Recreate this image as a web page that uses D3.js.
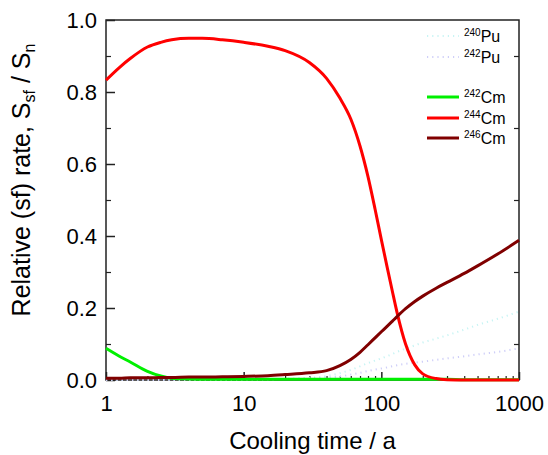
<!DOCTYPE html>
<html>
<head>
<meta charset="utf-8">
<script src="https://cdn.jsdelivr.net/npm/d3@7"></script>
<style>
  html, body { margin: 0; padding: 0; background: #fff; }
  svg { display: block; font-family: Arial, "Liberation Sans", sans-serif; }
</style>
</head>
<body>
<svg id="chart" width="548" height="455"></svg>
<script>
// Cooling time in years (shared sampling grid for every series)
const coolingTime = [1, 1.25, 1.5, 2, 2.5, 3, 4, 5, 7, 10, 15, 20, 30, 40, 50, 60, 70, 80, 90, 100, 110, 120, 130, 150, 175, 200, 250, 300, 400, 500, 700, 1000];

// Relative spontaneous-fission neutron source contributions
const pu240 = [0, 0, 0, 0, 0, 0, 0, 0, 0, 0.001, 0.002, 0.003, 0.006, 0.011, 0.019, 0.028, 0.038, 0.047, 0.054, 0.060, 0.066, 0.072, 0.078, 0.087, 0.096, 0.104, 0.115, 0.124, 0.140, 0.153, 0.170, 0.190];
const pu242 = [0, 0, 0, 0, 0, 0, 0, 0, 0, 0.001, 0.002, 0.003, 0.005, 0.007, 0.010, 0.015, 0.020, 0.025, 0.029, 0.032, 0.035, 0.038, 0.041, 0.045, 0.048, 0.051, 0.056, 0.060, 0.066, 0.071, 0.078, 0.088];
const cm242 = [0.088, 0.066, 0.050, 0.024, 0.011, 0.005, 0.003, 0.002, 0.002, 0.002, 0.002, 0.002, 0.002, 0.002, 0.002, 0.002, 0.002, 0.002, 0.002, 0.002, 0.002, 0.002, 0.002, 0.002, 0.002, 0.002, 0.002, 0.002, 0.001, 0.001, 0.001, 0.001];
const cm244 = [0.833, 0.868, 0.893, 0.925, 0.938, 0.945, 0.949, 0.949, 0.945, 0.938, 0.927, 0.915, 0.882, 0.838, 0.783, 0.725, 0.650, 0.565, 0.475, 0.390, 0.315, 0.248, 0.188, 0.100, 0.042, 0.017, 0.004, 0.001, 0, 0, 0, 0];
const cm246 = [0.005, 0.005, 0.006, 0.006, 0.007, 0.007, 0.008, 0.008, 0.009, 0.010, 0.012, 0.015, 0.020, 0.026, 0.040, 0.057, 0.077, 0.098, 0.117, 0.134, 0.149, 0.163, 0.176, 0.198, 0.218, 0.233, 0.255, 0.271, 0.296, 0.317, 0.350, 0.388];

// Axis ticks
const xMajorTicks = [1, 10, 100, 1000];
const xTickLabels = ["1", "10", "100", "1000"];
const yMajorTicks = [0, 0.2, 0.4, 0.6, 0.8, 1.0];
const yTickLabels = ["0.0", "0.2", "0.4", "0.6", "0.8", "1.0"];

const series = [
  { iso: "240", el: "Pu", values: pu240, color: "#c8f4f4", dotted: true },
  { iso: "242", el: "Pu", values: pu242, color: "#cfcff8", dotted: true },
  { iso: "242", el: "Cm", values: cm242, color: "#00f000", dotted: false },
  { iso: "244", el: "Cm", values: cm244, color: "#ff0000", dotted: false },
  { iso: "246", el: "Cm", values: cm246, color: "#800000", dotted: false }
];

const svg = d3.select("#chart");
const plot = { left: 106, right: 519, top: 20, bottom: 380 };

const x = d3.scaleLog().domain([1, 1000]).range([plot.left, plot.right]);
const y = d3.scaleLinear().domain([0, 1]).range([plot.bottom, plot.top]);

const axisColor = "#222";
const fontFamily = "Arial, 'Liberation Sans', sans-serif";

// Minor tick positions
const xMinor = [];
[1, 10, 100].forEach(d => { for (let k = 2; k <= 9; k++) xMinor.push(d * k); });
const yOdd = d3.range(1, 10, 2).map(k => k / 10);

// Frame
svg.append("rect")
  .attr("x", plot.left).attr("y", plot.top)
  .attr("width", plot.right - plot.left).attr("height", plot.bottom - plot.top)
  .attr("fill", "none").attr("stroke", axisColor).attr("stroke-width", 1.5);

// Bottom axis (ticks inward)
const xAxis = d3.axisBottom(x).tickValues(xMajorTicks).tickSizeInner(-8).tickSizeOuter(0)
  .tickFormat((d, i) => xTickLabels[i]);
const gx = svg.append("g").attr("transform", `translate(0,${plot.bottom})`).call(xAxis);
gx.select(".domain").remove();
gx.selectAll(".tick line").attr("stroke", axisColor).attr("stroke-width", 1.5);
gx.selectAll(".tick text").attr("y", 15).attr("dy", "0.71em")
  .attr("font-size", 22).attr("fill", "#000").attr("font-family", fontFamily);

const xAxisMinor = d3.axisBottom(x).tickValues(xMinor).tickSizeInner(-4).tickSizeOuter(0).tickFormat("");
const gxm = svg.append("g").attr("transform", `translate(0,${plot.bottom})`).call(xAxisMinor);
gxm.select(".domain").remove();
gxm.selectAll(".tick line").attr("stroke", axisColor).attr("stroke-width", 1.2);

// Left axis (ticks inward)
const yAxis = d3.axisLeft(y).tickValues(yMajorTicks).tickSizeInner(-9).tickSizeOuter(0)
  .tickFormat((d, i) => yTickLabels[i]);
const gy = svg.append("g").attr("transform", `translate(${plot.left},0)`).call(yAxis);
gy.select(".domain").remove();
gy.selectAll(".tick line").attr("stroke", axisColor).attr("stroke-width", 1.5);
gy.selectAll(".tick text").attr("x", -9).attr("dy", "0.35em")
  .attr("font-size", 22).attr("fill", "#000").attr("font-family", fontFamily);

const yAxisMinor = d3.axisLeft(y).tickValues(yOdd).tickSizeInner(-5).tickSizeOuter(0).tickFormat("");
const gym = svg.append("g").attr("transform", `translate(${plot.left},0)`).call(yAxisMinor);
gym.select(".domain").remove();
gym.selectAll(".tick line").attr("stroke", axisColor).attr("stroke-width", 1.2);

// Right axis: short inward ticks
const yAxisRight = d3.axisRight(y).tickValues(yOdd).tickSizeInner(-5).tickSizeOuter(0).tickFormat("");
const gyr = svg.append("g").attr("transform", `translate(${plot.right},0)`).call(yAxisRight);
gyr.select(".domain").remove();
gyr.selectAll(".tick line").attr("stroke", axisColor).attr("stroke-width", 1.2);

// Curves
const line = d3.line()
  .x((d, i) => x(coolingTime[i]))
  .y(d => y(d))
  .curve(d3.curveMonotoneX);

series.forEach(s => {
  const p = svg.append("path")
    .datum(s.values)
    .attr("d", line)
    .attr("fill", "none")
    .attr("stroke", s.color)
    .attr("stroke-width", s.dotted ? 2 : 3)
    .attr("stroke-linejoin", "round");
  if (s.dotted) p.attr("stroke-dasharray", "1.2,4");
});

// Legend
const legendY = [36, 57, 97, 118, 138];
const legend = svg.append("g");
series.forEach((s, i) => {
  const ly = legendY[i];
  const l = legend.append("line")
    .attr("x1", 427).attr("x2", 459)
    .attr("y1", ly).attr("y2", ly)
    .attr("stroke", s.color)
    .attr("stroke-width", s.dotted ? 2 : 3);
  if (s.dotted) l.attr("stroke-dasharray", "1.2,4");
  const t = legend.append("text")
    .attr("x", 464).attr("y", ly + 5.5)
    .attr("font-size", 16).attr("fill", "#000");
  t.append("tspan").attr("font-size", 10).attr("dy", -6).text(s.iso);
  t.append("tspan").attr("dy", 6).text(s.el);
});

// Axis titles
svg.append("text")
  .attr("x", (plot.left + plot.right) / 2).attr("y", 449)
  .attr("text-anchor", "middle")
  .attr("font-size", 24).attr("fill", "#000")
  .text("Cooling time / a");

const yt = svg.append("text")
  .attr("transform", "translate(30,180) rotate(-90)")
  .attr("text-anchor", "middle")
  .attr("font-size", 25).attr("fill", "#000");
yt.append("tspan").text("Relative (sf) rate, S");
yt.append("tspan").attr("font-size", 16).attr("dy", 5).text("sf");
yt.append("tspan").attr("dy", -5).text(" / S");
yt.append("tspan").attr("font-size", 16).attr("dy", 5).text("n");
</script>
</body>
</html>
